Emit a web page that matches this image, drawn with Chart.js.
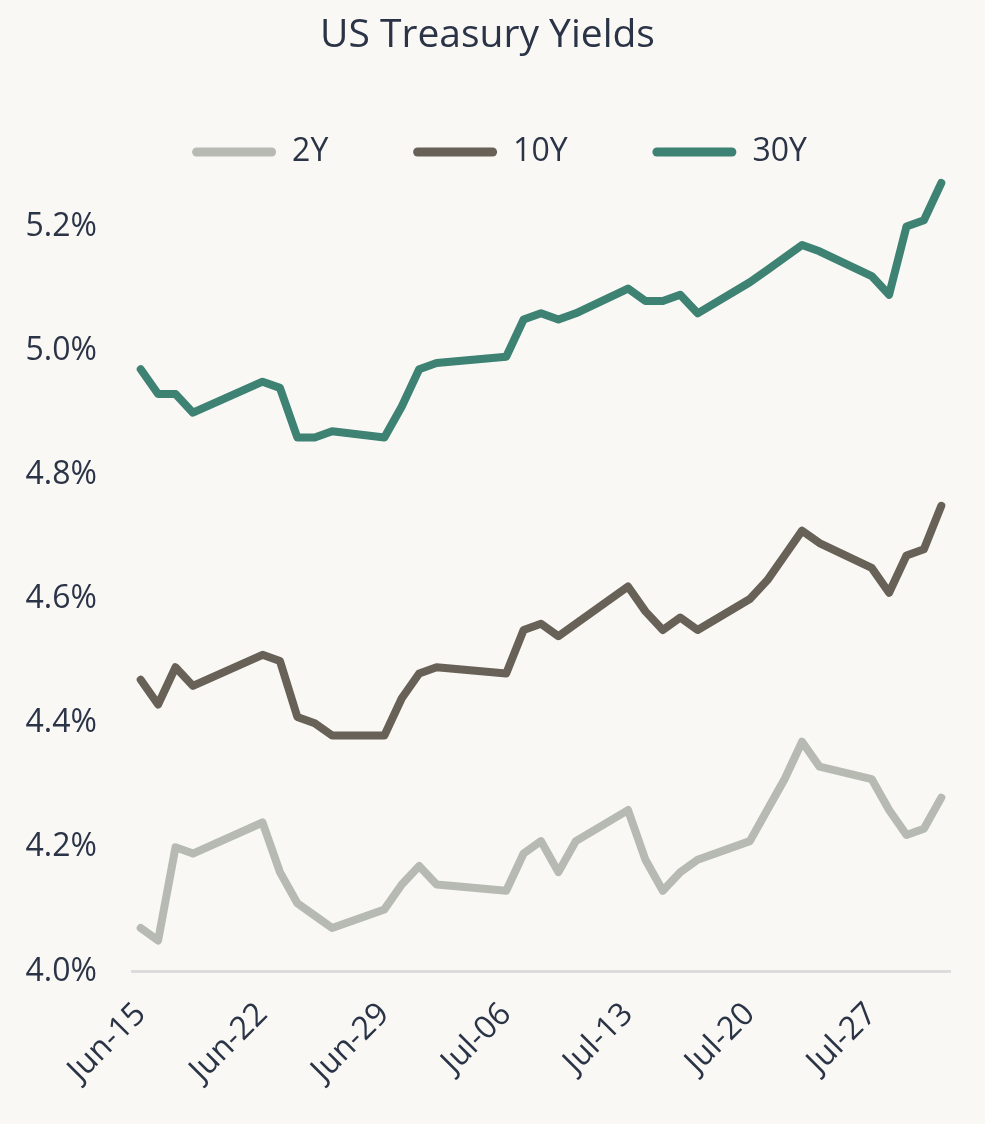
<!DOCTYPE html>
<html>
<head>
<meta charset="utf-8">
<script src="https://cdn.jsdelivr.net/npm/chart.js@4.4.1/dist/chart.umd.min.js"></script>
<style>
  html, body { margin: 0; padding: 0; background: #F9F8F4; }
  #wrap { width: 985px; height: 1124px; position: relative; }
</style>
</head>
<body>
<div id="wrap"><canvas id="c"></canvas></div>
<script>
// ---- Data (business days) ----
const dates = [
  "2026-06-15","2026-06-16","2026-06-17","2026-06-18",
  "2026-06-22","2026-06-23","2026-06-24","2026-06-25","2026-06-26",
  "2026-06-29","2026-06-30","2026-07-01","2026-07-02",
  "2026-07-06","2026-07-07","2026-07-08","2026-07-09","2026-07-10",
  "2026-07-13","2026-07-14","2026-07-15","2026-07-16","2026-07-17",
  "2026-07-20","2026-07-21","2026-07-22","2026-07-23","2026-07-24",
  "2026-07-27","2026-07-28","2026-07-29","2026-07-30","2026-07-31"
];
const y2 = [4.07,4.05,4.20,4.19, 4.24,4.16,4.11,4.09,4.07, 4.10,4.14,4.17,4.14,
            4.13,4.19,4.21,4.16,4.21, 4.26,4.18,4.13,4.16,4.18, 4.21,4.26,4.31,4.37,4.33,
            4.31,4.26,4.22,4.23,4.28];
const y10 = [4.47,4.43,4.49,4.46, 4.51,4.50,4.41,4.40,4.38, 4.38,4.44,4.48,4.49,
             4.48,4.55,4.56,4.54,4.56, 4.62,4.58,4.55,4.57,4.55, 4.60,4.63,4.67,4.71,4.69,
             4.65,4.61,4.67,4.68,4.75];
const y30 = [4.97,4.93,4.93,4.90, 4.95,4.94,4.86,4.86,4.87, 4.86,4.91,4.97,4.98,
             4.99,5.05,5.06,5.05,5.06, 5.10,5.08,5.08,5.09,5.06, 5.11,5.13,5.15,5.17,5.16,
             5.12,5.09,5.20,5.21,5.27];
const seriesNames = ["2Y","10Y","30Y"];
const tickDates = ["2026-06-15","2026-06-22","2026-06-29","2026-07-06","2026-07-13","2026-07-20","2026-07-27"];
const tickLabels = ["Jun-15","Jun-22","Jun-29","Jul-06","Jul-13","Jul-20","Jul-27"];
const yTicks = [4.0,4.2,4.4,4.6,4.8,5.0,5.2];

// ---- helpers ----
const DAY = 86400000;
const t0 = Date.parse(dates[0] + "T00:00:00Z");
const dayIdx = s => Math.round((Date.parse(s + "T00:00:00Z") - t0) / DAY);
const xs = dates.map(dayIdx);
const tickX = tickDates.map(dayIdx);
const pts = arr => arr.map((v, i) => ({x: xs[i], y: v}));

const TEXT = "#2B3447";
const COLORS = ["#B7BAB3", "#686157", "#3D8273"];
const FONT = "'Open Sans', 'DejaVu Sans', sans-serif";

// shift the centred legend row slightly to the right, as in the original
const legendShift = {
  id: 'legendShift',
  afterLayout(chart) {
    if (chart.legend) { chart.legend.left += 12; chart.legend.right += 12; }
  }
};

const chart = new Chart(document.getElementById('c'), {
  type: 'line',
  plugins: [legendShift],
  data: {
    datasets: [y2, y10, y30].map((arr, i) => ({
      label: seriesNames[i],
      data: pts(arr),
      borderColor: COLORS[i],
      backgroundColor: COLORS[i],
      borderWidth: 8,
      pointRadius: 0,
      pointHoverRadius: 0,
      tension: 0,
      borderJoinStyle: 'round',
      borderCapStyle: 'round'
    }))
  },
  options: {
    responsive: true,
    maintainAspectRatio: false,
    animation: false,
    events: [],
    layout: { padding: { top: 0, left: 25, right: 35, bottom: 0 } },
    plugins: {
      tooltip: { enabled: false },
      title: {
        display: true,
        text: 'US Treasury Yields',
        color: TEXT,
        font: { family: FONT, size: 39, weight: '400', lineHeight: 1.2 },
        padding: { top: 12.6, bottom: 66.6 }
      },
      legend: {
        display: true,
        position: 'top',
        labels: {
          color: TEXT,
          font: { family: FONT, size: 32, weight: '400' },
          boxWidth: 84,
          boxHeight: 9,
          padding: 10,
          generateLabels(ch) {
            const n = ch.data.datasets.length;
            return ch.data.datasets.map((ds, i) => ({
              text: ds.label + (i < n - 1 ? ' '.repeat(9) : ''),
              fillStyle: ds.borderColor,
              strokeStyle: ds.borderColor,
              lineWidth: 0,
              borderRadius: 4.5,
              hidden: false,
              fontColor: TEXT,
              datasetIndex: i
            }));
          }
        }
      }
    },
    scales: {
      x: {
        type: 'linear',
        min: -0.5,
        max: 46.5,
        grid: { display: false, drawTicks: false },
        border: { display: true, color: '#DCDCDC', width: 3 },
        afterBuildTicks(scale) { scale.ticks = tickX.map(v => ({ value: v })); },
        afterFit(scale) { scale.height = 152.5; },
        ticks: {
          autoSkip: false,
          maxRotation: 45,
          minRotation: 45,
          padding: 24,
          color: TEXT,
          font: { family: FONT, size: 32 },
          callback: (v, i) => tickLabels[i]
        }
      },
      y: {
        type: 'linear',
        min: 4.0,
        max: 5.278,
        grid: { display: false, drawTicks: false },
        border: { display: false },
        afterBuildTicks(scale) { scale.ticks = yTicks.map(v => ({ value: v })); },
        afterFit(scale) { scale.width = 107; },
        ticks: {
          padding: 35,
          color: TEXT,
          font: { family: FONT, size: 32 },
          callback: v => v.toFixed(1) + '%'
        }
      }
    }
  }
});
</script>
</body>
</html>
